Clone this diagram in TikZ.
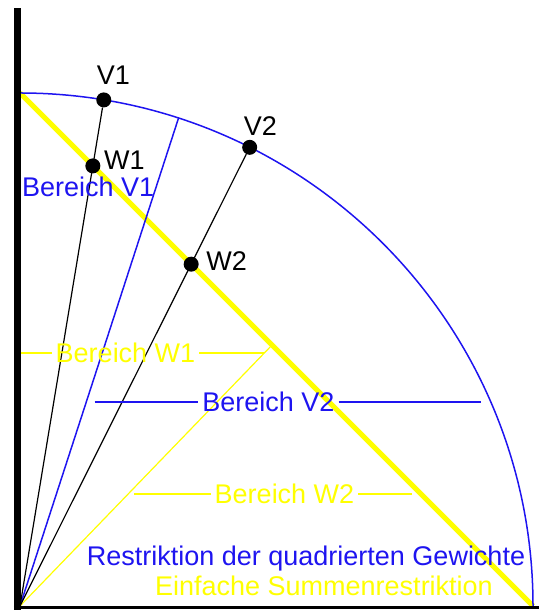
\documentclass[tikz,border=0pt]{standalone}
\usepackage{fontspec}
\setmainfont{Liberation Sans}
\usetikzlibrary{positioning,calc}
\definecolor{regblue}{RGB}{30,20,240}
\definecolor{sumyellow}{RGB}{255,255,0}

\begin{document}
\begin{tikzpicture}[
    x=1pt, y=1pt,
    lbl/.style={inner sep=0pt, font=\fontsize{27}{32}\selectfont},
    dot/.style={circle, fill=black, inner sep=0pt, minimum size=15pt},
    vec/.style={draw=black, line width=1.2pt},
    blueline/.style={draw=regblue, line width=1.5pt},
    yelline/.style={draw=sumyellow, line width=1.2pt}
]
    \useasboundingbox (-20,-4) rectangle (519,606);
    \coordinate (O) at (0,0);

    % Simple sum restriction
    \coordinate (top) at (0,513);
    \coordinate (right) at (513,0);
    \draw[sumyellow, line width=5pt] (top) -- (right);

    % Squared weights restriction
    \draw[blueline] (right) arc[start angle=0, end angle=90, radius=513];

    % Region boundaries
    \coordinate (vb) at (72:513);
    \coordinate (wb) at (46:362.8);
    \draw[blueline] (O) -- (vb);
    \draw[yelline] (O) -- (wb);

    % Vectors
    \node[dot] (V1) at (80.6:513) {};
    \node[dot] (W1) at (80.6:446.1) {};
    \node[dot] (V2) at (63.4:513) {};
    \node[dot] (W2) at (63.4:382.3) {};
    \draw[vec] (O) -- (V1);
    \draw[vec] (O) -- (V2);

    \node[lbl, anchor=base west] (v1l) at ($(V1)+(-7,15)$) {V1};
    \node[lbl, anchor=base west] (w1l) at ($(W1)+(11,-4)$) {W1};
    \node[lbl, anchor=base west] (v2l) at ($(V2)+(-6,12)$) {V2};
    \node[lbl, anchor=base west] (w2l) at ($(W2)+(15,-6)$) {W2};

    % Regions
    \node[lbl, regblue, anchor=base west] (bv1) at (2,409) {Bereich V1};

    \node[lbl, sumyellow, inner xsep=4pt] (bw1) at (105.5,253) {Bereich W1};
    \coordinate (bw1a) at (0,253);
    \coordinate (bw1b) at (244,253);
    \draw[yelline] (bw1a) -- (bw1.west);
    \draw[yelline] (bw1.east) -- (bw1b);

    \node[lbl, regblue, inner xsep=4pt] (bv2) at (248.5,204) {Bereich V2};
    \coordinate (bv2a) at (74.5,204);
    \coordinate (bv2b) at (461,204);
    \draw[blueline] (bv2a) -- (bv2.west);
    \draw[blueline] (bv2.east) -- (bv2b);

    \node[lbl, sumyellow, inner xsep=4pt] (bw2) at (264.5,112) {Bereich W2};
    \coordinate (bw2a) at (114,112);
    \coordinate (bw2b) at (392,112);
    \draw[yelline] (bw2a) -- (bw2.west);
    \draw[yelline] (bw2.east) -- (bw2b);

    % Legend
    \node[lbl, regblue, anchor=base] (rq) at (286,40) {Restriktion der quadrierten Gewichte};
    \node[lbl, sumyellow, anchor=base] (es) at (304,10) {Einfache Summenrestriktion};

    % Axes
    \fill (-6,-4) rectangle (1,598);
    \draw[line width=2.5pt] (-6,-1.5) -- (519,-1.5);
\end{tikzpicture}
\end{document}
